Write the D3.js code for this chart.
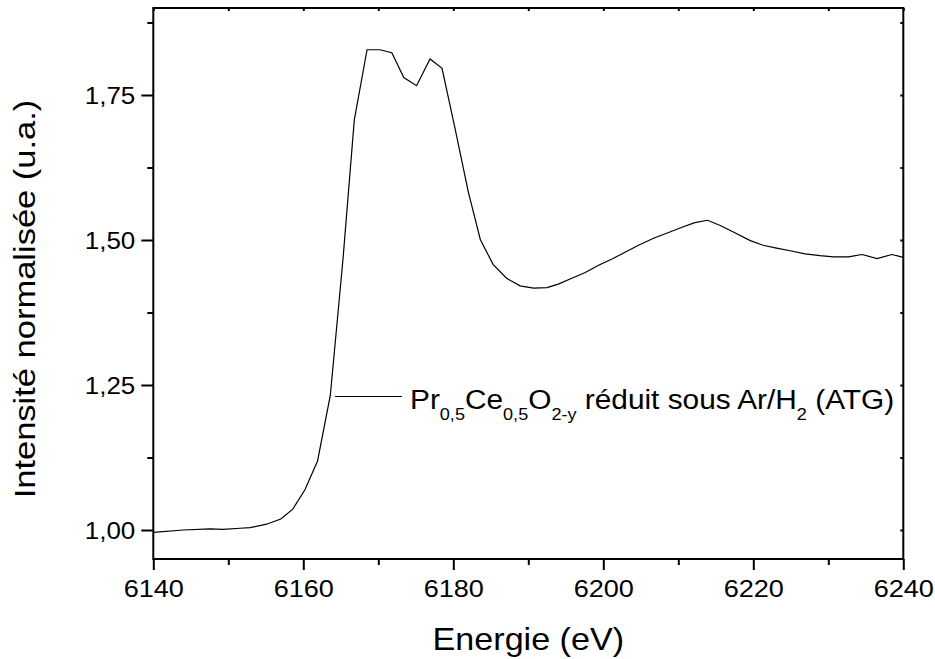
<!DOCTYPE html>
<html><head><meta charset="utf-8">
<script src="https://cdn.jsdelivr.net/npm/d3@7"></script>
<style>
html,body{margin:0;padding:0;background:#fff;}
svg{display:block;font-family:"Liberation Sans",Arial,sans-serif;}
</style></head>
<body><svg id="c" width="935" height="659"></svg>
<script>
const energy = [6140, 6144, 6147.6, 6149.3, 6151.6, 6152.9, 6155.1, 6157.0, 6158.6, 6160.2,
  6161.9, 6163.6, 6165.3, 6166.8, 6168.5, 6170.2, 6171.8, 6173.4, 6175.1, 6176.9,
  6178.5, 6180.2, 6182.0, 6183.6, 6185.3, 6187.1, 6188.9, 6190.7, 6192.5, 6194.0,
  6195.8, 6197.6, 6199.3, 6201.3, 6202.9, 6204.7, 6206.7, 6208.7, 6210.5, 6212.2,
  6213.9, 6215.6, 6217.6, 6219.6, 6221.3, 6223.1, 6225.1, 6226.9, 6228.9, 6230.7,
  6232.7, 6234.5, 6236.5, 6238.5, 6240];
const intensity = [0.996, 1.000, 1.002, 1.001, 1.003, 1.004, 1.010, 1.019, 1.036, 1.069,
  1.119, 1.232, 1.468, 1.707, 1.828, 1.828, 1.823, 1.780, 1.766, 1.812,
  1.796, 1.694, 1.583, 1.501, 1.458, 1.434, 1.421, 1.417, 1.418, 1.424,
  1.434, 1.444, 1.456, 1.468, 1.479, 1.491, 1.503, 1.513, 1.522, 1.530,
  1.534, 1.525, 1.512, 1.499, 1.491, 1.486, 1.481, 1.476, 1.473, 1.471,
  1.471, 1.475, 1.468, 1.475, 1.470];
const xTicks = [6140, 6160, 6180, 6200, 6220, 6240];
const xMinor = [6150, 6170, 6190, 6210, 6230];
const yTicks = [1.00, 1.25, 1.50, 1.75];
const yMinor = [1.125, 1.375, 1.625, 1.875];
const xTitle = "Energie (eV)";
const yTitle = "Intensité normalisée (u.a.)";

const svg = d3.select("#c");
const L = 153.3, R = 903.3, T = 8, B = 559;
const x = d3.scaleLinear().domain([6140, 6240]).range([L, R]);
const y = d3.scaleLinear().domain([0.95, 1.9]).range([B, T]);
const fr = d3.formatLocale({decimal: ",", thousands: "", grouping: [3], currency: ["", ""]});
const fy = fr.format(".2f");

const SX = 1.13;
function styleAxis(g){ g.select(".domain").remove(); g.selectAll("line").attr("stroke","#000").attr("stroke-width",2); }

// bottom axis major
const gB = svg.append("g").attr("transform", `translate(0,${B})`)
  .call(d3.axisBottom(x).tickValues(xTicks).tickSize(11).tickSizeOuter(0).tickFormat(d3.format("d")));
styleAxis(gB);
gB.selectAll("text").attr("y", 38).attr("dy", 0).attr("font-size", 24).attr("fill","#000")
  .attr("font-family","Liberation Sans, Arial, sans-serif")
  .attr("transform", `scale(${SX},1)`);
const gBm = svg.append("g").attr("transform", `translate(0,${B})`)
  .call(d3.axisBottom(x).tickValues(xMinor).tickSize(6).tickSizeOuter(0).tickFormat(""));
styleAxis(gBm);

// left axis
const gL = svg.append("g").attr("transform", `translate(${L},0)`)
  .call(d3.axisLeft(y).tickValues(yTicks).tickSize(12).tickSizeOuter(0).tickFormat(fy));
styleAxis(gL);
gL.selectAll("text").attr("x", -18 / SX).attr("dy", "0.36em").attr("font-size", 23).attr("fill","#000")
  .attr("font-family","Liberation Sans, Arial, sans-serif")
  .attr("transform", `scale(${SX},1)`);
const gLm = svg.append("g").attr("transform", `translate(${L},0)`)
  .call(d3.axisLeft(y).tickValues(yMinor).tickSize(6).tickSizeOuter(0).tickFormat(""));
styleAxis(gLm);

// top axis (inward ticks)
const gT = svg.append("g").attr("transform", `translate(0,${T})`)
  .call(d3.axisTop(x).tickValues(xTicks.concat(xMinor)).tickSize(-3).tickSizeOuter(0).tickFormat(""));
styleAxis(gT);
// right axis (inward ticks)
const gR = svg.append("g").attr("transform", `translate(${R},0)`)
  .call(d3.axisRight(y).tickValues(yTicks.concat(yMinor)).tickSize(-3).tickSizeOuter(0).tickFormat(""));
styleAxis(gR);

// frame
svg.append("rect").attr("x", L).attr("y", T).attr("width", R - L).attr("height", B - T)
  .attr("fill", "none").attr("stroke", "#000").attr("stroke-width", 2);

// data line
const pts = energy.map((e, i) => [e, intensity[i]]);
svg.append("path").datum(pts)
  .attr("d", d3.line().x(d => x(d[0])).y(d => y(d[1])))
  .attr("fill", "none").attr("stroke", "#000").attr("stroke-width", 1.2).attr("stroke-linejoin","miter");

// titles
svg.append("text").attr("transform", `translate(${(L+R)/2},650) scale(1.1,1)`)
  .attr("text-anchor", "middle").attr("font-size", 31).attr("fill","#000").text(xTitle);
svg.append("text").attr("transform", `translate(35,299) rotate(-90) scale(1.15,1)`)
  .attr("text-anchor", "middle").attr("font-size", 30).attr("fill","#000").text(yTitle);

// legend
svg.append("line").attr("x1", 335).attr("x2", 402).attr("y1", 396.5).attr("y2", 396.5)
  .attr("stroke", "#000").attr("stroke-width", 1.2);
const lt = svg.append("text").attr("transform", "translate(410,409) scale(1.065,1)")
  .attr("font-size", 28).attr("fill", "#000");
const parts = [["Pr",0],["0,5",1],["Ce",0],["0,5",1],["O",0],["2-y",1],[" réduit sous Ar/H",0],["2",1],[" (ATG)",0]];
let prevSub = false;
parts.forEach(([t, s]) => {
  const sp = lt.append("tspan").text(t);
  if (s) { sp.attr("font-size", 17).attr("dy", prevSub ? 0 : 11); prevSub = true; }
  else { sp.attr("dy", prevSub ? -11 : 0); prevSub = false; }
});
</script></body></html>
